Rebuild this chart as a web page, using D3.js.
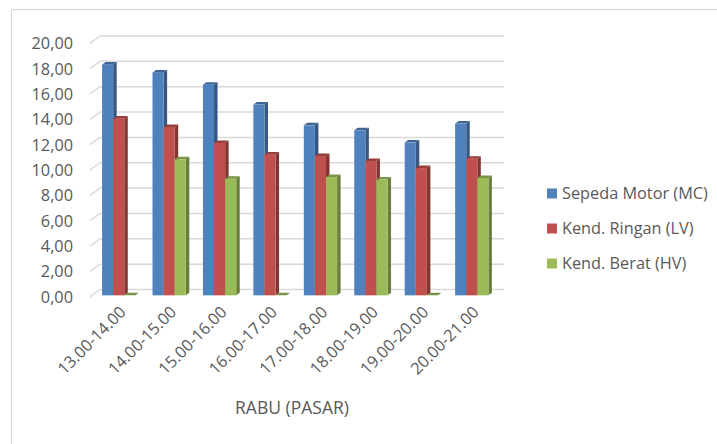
<!DOCTYPE html>
<html>
<head>
<meta charset="utf-8">
<script src="https://cdn.jsdelivr.net/npm/d3@7"></script>
<style>
  html, body { margin: 0; padding: 0; background: #fff; }
  svg { display: block; }
  text { font-family: "Open Sans", "Noto Sans", sans-serif; fill: #595959; }
</style>
</head>
<body>
<svg id="chart" width="717" height="444"></svg>
<script>
const categories = ["13.00-14.00","14.00-15.00","15.00-16.00","16.00-17.00","17.00-18.00","18.00-19.00","19.00-20.00","20.00-21.00"];
const seriesNames = ["Sepeda Motor (MC)","Kend. Ringan (LV)","Kend. Berat (HV)"];
const mcValues = [18.20, 17.57, 16.62, 15.05, 13.41, 13.02, 12.05, 13.55];
const lvValues = [13.94, 13.28, 12.02, 11.10, 10.99, 10.60, 10.04, 10.78];
const hvValues = [0.00, 10.73, 9.20, 0.00, 9.33, 9.13, 0.00, 9.26];
const yTicks = [0, 2, 4, 6, 8, 10, 12, 14, 16, 18, 20];
const colors = ["#4f81bd", "#c0504d", "#9bbb59"];
const axisTitle = "RABU (PASAR)";

const seriesValues = [mcValues, lvValues, hvValues];
const svg = d3.select("#chart");

// chart area border
svg.append("rect").attr("x", 11.5).attr("y", 9.5).attr("width", 740).attr("height", 460)
  .attr("fill", "none").attr("stroke", "#d9d9d9").attr("stroke-width", 1.2);

// depth projection
const DX = 10, DY = -7.3;
const y = d3.scaleLinear().domain([0, 20]).range([296.8, 43.3]);
const x0 = d3.scaleBand().domain(categories).range([91.5, 495]);
const bw = x0.bandwidth();
const x1 = d3.scaleBand().domain(seriesNames).range([bw * 0.17, bw * 0.83]);

// gridlines (back wall) + floor diagonals
const grid = svg.append("g").attr("stroke", "#d9d9d9").attr("stroke-width", 1.5).attr("fill", "none");
yTicks.forEach(t => {
  grid.append("line")
    .attr("x1", 90 + DX).attr("x2", 494 + DX)
    .attr("y1", y(t) + DY).attr("y2", y(t) + DY);
  grid.append("line")
    .attr("x1", 90).attr("x2", 90 + DX)
    .attr("y1", y(t)).attr("y2", y(t) + DY);
});

// y tick labels
svg.append("g").selectAll("text").data(yTicks).join("text")
  .attr("x", 73).attr("y", d => y(d))
  .attr("dy", "0.36em")
  .attr("text-anchor", "end")
  .attr("font-size", 16.3)
  .text(d => d3.format(".2f")(d).replace(".", ","));

// bars
const d0 = 0.2, d1 = 0.55;
const barsG = svg.append("g");
categories.forEach((cat, ci) => {
  seriesNames.forEach((s, si) => {
    const v = seriesValues[si][ci];
    const c = d3.color(colors[si]);
    const xl = x0(cat) + x1(s) + d0 * DX;
    const xr = xl + x1.bandwidth();
    const yb = y(0) + d0 * DY;
    const yt = y(v) + d0 * DY;
    const ox = (d1 - d0) * DX, oy = (d1 - d0) * DY;
    const g = barsG.append("g");
    g.append("path")
      .attr("d", `M${xr},${yt}L${xr + ox},${yt + oy}L${xr + ox},${yb + oy}L${xr},${yb}Z`)
      .attr("fill", c.darker(1.1));
    g.append("path")
      .attr("d", `M${xl},${yt}L${xl + ox},${yt + oy}L${xr + ox},${yt + oy}L${xr},${yt}Z`)
      .attr("fill", c.darker(0.7));
    g.append("rect")
      .attr("x", xl).attr("y", yt)
      .attr("width", x1.bandwidth()).attr("height", Math.max(0, yb - yt))
      .attr("fill", c.formatHex());
  });
});

// x category labels
svg.append("g").selectAll("text").data(categories).join("text")
  .attr("transform", d => `translate(${x0(d) + bw / 2 + 6},${309}) rotate(-45)`)
  .attr("text-anchor", "end")
  .attr("dy", "0.36em")
  .attr("font-size", 16.3)
  .text(d => d);

// axis title
svg.append("text")
  .attr("x", 292).attr("y", 408)
  .attr("dy", "0.36em")
  .attr("text-anchor", "middle")
  .attr("font-size", 17.5)
  .text(axisTitle);

// legend
const legend = svg.append("g");
seriesNames.forEach((s, i) => {
  const ly = 193.5 + i * 35;
  legend.append("rect").attr("x", 547).attr("y", ly - 5).attr("width", 10).attr("height", 10)
    .attr("fill", colors[i]);
  legend.append("text").attr("x", 562).attr("y", ly).attr("dy", "0.36em")
    .attr("font-size", 16.3).text(s);
});
</script>
</body>
</html>
